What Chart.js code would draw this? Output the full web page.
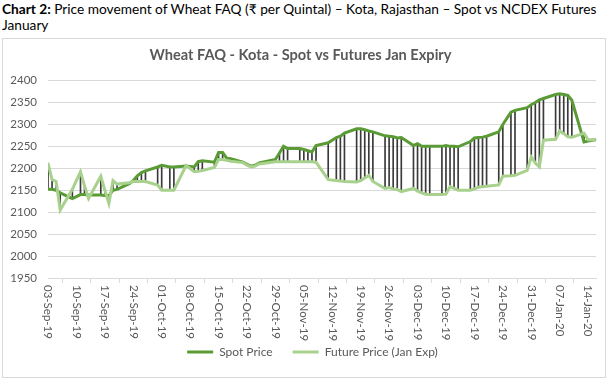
<!DOCTYPE html>
<html>
<head>
<meta charset="utf-8">
<script src="https://cdn.jsdelivr.net/npm/chart.js@4.4.0/dist/chart.umd.min.js"></script>
<style>
body { margin: 0; background: #fff; font-family: Lato, "Noto Sans", sans-serif; }
#caption { position: absolute; left: 2px; top: 1px; font-size: 13.7px; line-height: 16px; color: #000; white-space: nowrap; }
#box { position: absolute; left: 2px; top: 38px; width: 604px; height: 340px; border: 1px solid #D9D9D9; box-sizing: border-box; }
</style>
</head>
<body>
<div id="caption"><b>Chart 2:</b> Price movement of Wheat FAQ (₹ per Quintal) – Kota, Rajasthan – Spot vs NCDEX Futures<br>January</div>
<div id="box"><canvas id="chart"></canvas></div>
<script>
// trading days
var dates = [
  '2019-09-03','2019-09-04','2019-09-05','2019-09-06','2019-09-09','2019-09-11','2019-09-12','2019-09-13','2019-09-16','2019-09-17',
  '2019-09-18','2019-09-19','2019-09-20','2019-09-23','2019-09-24','2019-09-25','2019-09-26','2019-09-27','2019-09-30',
  '2019-10-01','2019-10-03','2019-10-04','2019-10-07','2019-10-09','2019-10-10','2019-10-11','2019-10-14','2019-10-15','2019-10-16',
  '2019-10-17','2019-10-18','2019-10-21','2019-10-22','2019-10-23','2019-10-24','2019-10-25','2019-10-29','2019-10-30','2019-10-31',
  '2019-11-01','2019-11-04','2019-11-05','2019-11-06','2019-11-07','2019-11-08','2019-11-11','2019-11-13','2019-11-14','2019-11-15',
  '2019-11-18','2019-11-19','2019-11-20','2019-11-21','2019-11-22','2019-11-25','2019-11-26','2019-11-27','2019-11-28','2019-11-29',
  '2019-12-02','2019-12-03','2019-12-04','2019-12-05','2019-12-06','2019-12-09','2019-12-10','2019-12-11','2019-12-12','2019-12-13',
  '2019-12-16','2019-12-17','2019-12-18','2019-12-19','2019-12-20','2019-12-23','2019-12-24','2019-12-26','2019-12-27','2019-12-30','2019-12-31',
  '2020-01-01','2020-01-02','2020-01-03','2020-01-06','2020-01-07','2020-01-08','2020-01-09','2020-01-10','2020-01-13','2020-01-14','2020-01-15','2020-01-16'
];

var spotPrice = [
  2152,2152,2150,2144,2131,2140,2140,2139,2139,2138,
  2137,2150,2152,2165,2172,2183,2190,2194,2203,
  2207,2203,2203,2205,2203,2215,2217,2214,2236,2236,
  2223,2222,2214,2209,2205,2207,2212,2220,2235,2250,
  2245,2245,2243,2240,2237,2252,2258,2270,2273,2280,
  2290,2290,2288,2285,2283,2274,2273,2272,2269,2270,
  2252,2256,2250,2250,2250,2250,2252,2250,2250,2249,
  2261,2269,2270,2271,2273,2283,2300,2328,2332,2338,2345,
  2350,2356,2359,2368,2370,2368,2366,2355,2260,2262,2264,2265
];

var futurePrice = [
  2212,2174,2170,2105,2152,2192,2160,2131,2182,2150,
  2120,2172,2164,2167,2170,2170,2170,2170,2162,
  2150,2150,2150,2206,2192,2193,2195,2202,2220,2220,
  2218,2216,2213,2207,2203,2205,2210,2215,2215,2215,
  2215,2215,2215,2215,2215,2214,2174,2172,2171,2170,
  2169,2172,2178,2184,2170,2154,2156,2153,2152,2147,
  2154,2148,2144,2141,2140,2140,2141,2158,2154,2150,
  2150,2153,2157,2158,2159,2162,2182,2183,2184,2195,2226,
  2212,2203,2264,2266,2285,2279,2272,2271,2280,2265,2265,2266
];

var yTicks = { min: 1950, max: 2400, step: 50 };
var months = ['Jan','Feb','Mar','Apr','May','Jun','Jul','Aug','Sep','Oct','Nov','Dec'];

var start = Date.parse(dates[0]);
function dayOf(s) { return Math.round((Date.parse(s) - start) / 86400000); }
function fmtDay(v) {
  var d = new Date(start + v * 86400000);
  var dd = ('0' + d.getUTCDate()).slice(-2);
  return dd + '-' + months[d.getUTCMonth()] + '-' + String(d.getUTCFullYear()).slice(-2);
}

var days = dates.map(dayOf);
var spotData = days.map(function (x, i) { return { x: x, y: spotPrice[i] }; });
var futData = days.map(function (x, i) { return { x: x, y: futurePrice[i] }; });
var hiloData = days.map(function (x, i) { return { x: x, y: [Math.min(spotPrice[i], futurePrice[i]), Math.max(spotPrice[i], futurePrice[i])] }; });

var FONT = 'Lato, "Noto Sans", sans-serif';
var GREY = '#595959';

// x labels read top-to-bottom, so draw them ourselves
var xLabelPlugin = {
  id: 'xLabels',
  afterLayout: function (chart) {
    // nudge the legend a little to the right, like the original
    chart.legend.left += 12;
    chart.legend.right += 12;
  },
  afterDraw: function (chart) {
    var sc = chart.scales.x, ctx = chart.ctx;
    ctx.save();
    ctx.font = '11.5px ' + FONT;
    ctx.fillStyle = GREY;
    ctx.textAlign = 'left';
    ctx.textBaseline = 'middle';
    sc.ticks.forEach(function (t) {
      var px = sc.getPixelForValue(t.value);
      ctx.save();
      ctx.translate(px, sc.top + 7);
      ctx.rotate(Math.PI / 2);
      ctx.fillText(fmtDay(t.value), 0, 0);
      ctx.restore();
    });
    ctx.restore();
  }
};

new Chart(document.getElementById('chart'), {
  type: 'line',
  data: {
    datasets: [
      {
        label: 'Spot Price',
        data: spotData,
        borderColor: '#5A9B36',
        backgroundColor: '#5A9B36',
        borderWidth: 3,
        pointRadius: 0,
        tension: 0,
        order: 1
      },
      {
        label: 'Future Price (Jan Exp)',
        data: futData,
        borderColor: '#A9D18E',
        backgroundColor: '#A9D18E',
        borderWidth: 3,
        pointRadius: 0,
        tension: 0,
        order: 0
      },
      {
        type: 'bar',
        label: 'hilo',
        data: hiloData,
        backgroundColor: '#3A3A3A',
        barThickness: 1,
        order: 2
      }
    ]
  },
  plugins: [xLabelPlugin],
  options: {
    responsive: true,
    maintainAspectRatio: false,
    animation: false,
    layout: { padding: { left: 0, right: 7, top: 0, bottom: 9 } },
    plugins: {
      tooltip: { enabled: false },
      title: {
        display: true,
        text: 'Wheat FAQ - Kota - Spot vs Futures Jan Expiry',
        color: GREY,
        font: { family: FONT, size: 14.6, weight: 'bold' },
        padding: { top: 8, bottom: 16 }
      },
      legend: {
        position: 'bottom',
        labels: {
          usePointStyle: true,
          pointStyle: 'line',
          pointStyleWidth: 26,
          padding: 20,
          color: GREY,
          font: { family: FONT, size: 12 },
          filter: function (item) { return item.datasetIndex < 2; },
          sort: function (a, b) { return a.datasetIndex - b.datasetIndex; }
        }
      }
    },
    scales: {
      x: {
        type: 'linear',
        min: 0,
        max: days[days.length - 1],
        offset: false,
        afterFit: function (scale) { scale.height = 48; },
        ticks: {
          stepSize: 7,
          includeBounds: false,
          autoSkip: false,
          maxTicksLimit: 100,
          minRotation: 90,
          maxRotation: 90,
          color: 'rgba(0,0,0,0)',
          font: { family: FONT, size: 11.5 },
          callback: function (v) { return fmtDay(v); }
        },
        grid: { drawOnChartArea: false, drawTicks: true, tickLength: 5, color: '#D9D9D9' },
        border: { color: '#D9D9D9' }
      },
      y: {
        min: yTicks.min,
        max: yTicks.max,
        afterFit: function (scale) { scale.width = 45; },
        ticks: {
          stepSize: yTicks.step,
          color: GREY,
          padding: 11,
          font: { family: FONT, size: 11.5 },
          callback: function (v) { return String(v); }
        },
        grid: { color: '#D9D9D9', drawTicks: false },
        border: { display: false }
      }
    }
  }
});
</script>
</body>
</html>
